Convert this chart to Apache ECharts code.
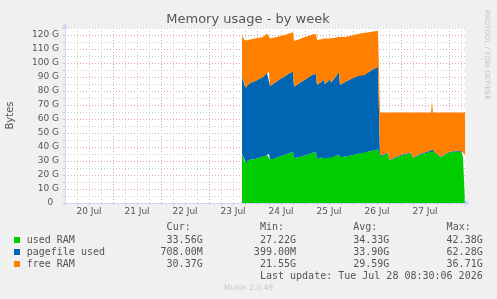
<!DOCTYPE html>
<html><head><meta charset="utf-8">
<script src="https://cdn.jsdelivr.net/npm/echarts@6/dist/echarts.min.js"></script>
<style>html,body{margin:0;padding:0;background:#f0f0f0}#c{width:497px;height:299px}</style>
</head><body><div id="c"></div>
<script>
// time in hours since 20 Jul 2026 00:00
const hours = [88.5,89,90,90.5,91.5,93,95,97,99,101,102,102.5,104,106,108,110,112,114,114.5,116,118,120,122,124,125.5,126,128,129.5,130,132.5,133,135,137,137.5,140,143,146,149,150,152,154,156.5,
  157.5,159,161.5,162.3,165,168,171.3,173,174,177.4,180,183,183.5,184,186,188,191.3,195,198.3,199,200];
// values in G (10^9 bytes)
const usedRAM = [35,33.5,29,28.5,30.5,31,31.5,32.5,33,34.5,35,31,31.5,32.5,33.5,34.5,35.5,36.4,32.1,32.5,33,34,35,36,36.2,31.4,32.5,33,32,33,32.5,33.5,34.4,32.6,33.2,34,35,36,36,36.8,37.5,38.3,
  33.3,34,35.5,30.2,32,33.8,35,35.5,31.8,34.4,35.5,36.7,38.4,37,34.4,32.6,35.5,36.7,36.2,32.6,33.56];
const pagefileUsed = [55,54.5,54,53.5,54,55,55.5,56,57,58.5,59,52.5,53.5,54.5,55.5,56,57,57.6,50.9,52,53.5,54,55,56,55.8,53.1,54,55,52.8,55.6,53.5,56,59.4,51.7,53.3,54.5,55.5,56.5,55.5,56.7,58,58.9,
  0.8,0.7,0.6,0.5,0.6,0.7,0.6,0.7,0.5,0.6,0.7,0.8,0.9,0.7,0.6,0.5,0.6,0.7,0.7,0.6,0.708];
const freeRAM = [30,30,33,33.5,32,31,30.5,29.5,28.5,28,28,34,33,31.5,30.5,29.5,28.5,28,32.8,32,31,30.5,29.5,28.5,28.5,31.9,30.5,29.5,32,28.9,31.2,28.5,24.7,33.3,32,31,30,29,30,28.5,27,25.8,
  30.6,30,28.6,34,32.1,30.2,29.1,28.5,32.4,29.7,28.5,27.2,33.3,27,29.7,31.6,28.6,27.3,27.8,31.5,30.37];
const dayLabels = ['20 Jul','21 Jul','22 Jul','23 Jul','24 Jul','25 Jul','26 Jul','27 Jul'];
const seriesNames = ['used RAM','pagefile used','free RAM'];
const seriesColors = ['#00CC00','#0066B3','#FF8000'];
const statHeaders = ['Cur:','Min:','Avg:','Max:'];
const statsUsed = ['33.56G','27.22G','34.33G','42.38G'];
const statsPagefile = ['708.00M','399.00M','33.90G','62.28G'];
const statsFree = ['30.37G','21.55G','29.59G','36.71G'];
const lastUpdate = 'Last update: Tue Jul 28 08:30:06 2026';

const seriesValues = [usedRAM, pagefileUsed, freeRAM];
const seriesStats = [statsUsed, statsPagefile, statsFree];
const T0 = Date.UTC(2026, 6, 20, 0, 0, 0);
const HOUR = 3600 * 1000;

const mono = '"DejaVu Sans Mono", monospace';
const sans = '"DejaVu Sans", sans-serif';
const txt = '#555';
const colRight = [202.7, 296, 389.3, 482.7];

const graphics = [];
graphics.push({type:'text', x:10, y:115.5, rotation:Math.PI/2,
  style:{text:'Bytes', font:'10px ' + sans, fill:txt, align:'center', verticalAlign:'middle'}});
graphics.push({type:'text', x:487, y:55, rotation:-Math.PI/2,
  style:{text:'RRDTOOL / TOBI OETIKER', font:'7px ' + sans, fill:'#c4c4c4', align:'center', verticalAlign:'middle'}});
statHeaders.forEach((h, j) => graphics.push({type:'text', x:colRight[j] - 12, y:227,
  style:{text:h, font:'10px ' + mono, fill:txt, align:'right', verticalAlign:'middle'}}));
seriesNames.forEach((n, i) => {
  const y = 240 + 12 * i;
  graphics.push({type:'rect', shape:{x:14, y:y - 3, width:6, height:6}, style:{fill:seriesColors[i]}});
  graphics.push({type:'text', x:26.7, y:y, style:{text:n, font:'10px ' + mono, fill:txt, align:'left', verticalAlign:'middle'}});
  seriesStats[i].forEach((s, j) => graphics.push({type:'text', x:colRight[j], y:y,
    style:{text:s, font:'10px ' + mono, fill:txt, align:'right', verticalAlign:'middle'}}));
});
graphics.push({type:'text', x:482.7, y:276, style:{text:lastUpdate, font:'10px ' + mono, fill:txt, align:'right', verticalAlign:'middle'}});
graphics.push({type:'text', x:248.5, y:288.5, style:{text:'Munin 2.0.49', font:'7.5px ' + sans, fill:'#c8c8c8', align:'center', verticalAlign:'middle'}});
graphics.push({type:'text', x:248, y:19.5, style:{text:'Memory usage - by week', font:'13px ' + sans, fill:txt, align:'center', verticalAlign:'middle'}});

const RED = '#e2a4a4', GRAY = '#cdcdcd', AXIS = '#CFD6F8';

const option = {
  animation: false,
  backgroundColor: '#f0f0f0',
  grid: {left:65, top:28, width:400, height:175, show:true, backgroundColor:'#ffffff', borderWidth:0},
  xAxis: [{
    type:'value', min:0, max:200, interval:6, z:3,
    axisLine:{show:true, onZero:false, lineStyle:{color:AXIS, width:1}, symbol:['none','arrow'], symbolSize:[6,6], symbolOffset:[0,5]},
    axisTick:{show:true, length:2, lineStyle:{color:'#dcc0c0'}},
    axisLabel:{fontSize:9, fontFamily:sans, color:txt, margin:4,
      formatter: v => (v % 24 === 12 && dayLabels[(v - 12) / 24]) ? dayLabels[(v - 12) / 24] : ''},
    splitLine:{show:true, showMaxLine:false, lineStyle:{color:[RED, GRAY, GRAY, GRAY], type:[1,2], width:1}}
  }, {
    type:'time', min:T0, max:T0 + 200 * HOUR, show:false, position:'bottom',
    axisLine:{show:false}, axisTick:{show:false}, axisLabel:{show:false}, splitLine:{show:false}
  }],
  yAxis: {
    type:'value', min:0, max:125, interval:5, z:3,
    axisLine:{show:true, lineStyle:{color:AXIS, width:1}, symbol:['none','arrow'], symbolSize:[6,6], symbolOffset:[0,5]},
    axisTick:{show:true, length:2, lineStyle:{color:'#dcc0c0'}},
    axisLabel:{fontSize:9, fontFamily:sans, color:txt, margin:6,
      formatter: v => v === 0 ? '0  ' : ((v % 10 === 0 && v <= 120) ? v + ' G' : '')},
    splitLine:{show:true, lineStyle:{color:[RED, GRAY], type:[1,2], width:1}}
  },
  series: seriesNames.map((n, i) => ({
    name:n, type:'line', stack:'mem', xAxisIndex:1, showSymbol:false, symbol:'none', silent:true,
    lineStyle:{width:0}, areaStyle:{color:seriesColors[i], opacity:1}, itemStyle:{color:seriesColors[i]},
    data: hours.map((t, k) => [T0 + t * HOUR, seriesValues[i][k]])
  })),
  graphic: graphics
};
const chart = echarts.init(document.getElementById('c'));
chart.setOption(option);
</script></body></html>
